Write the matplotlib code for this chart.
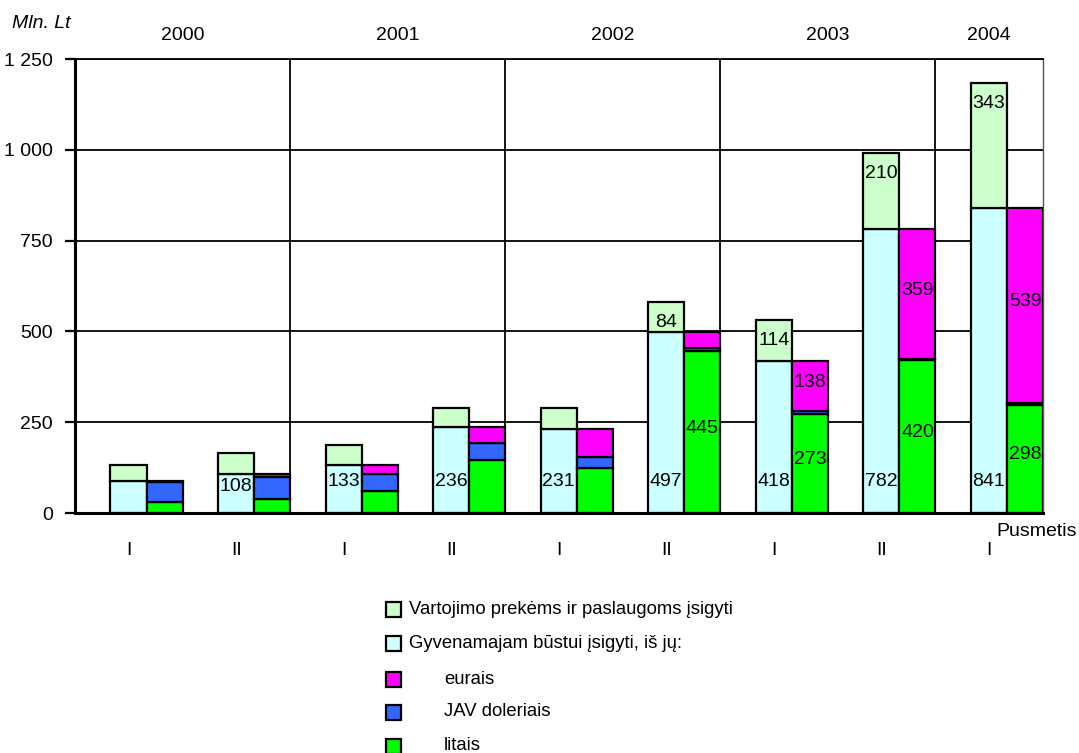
import matplotlib
matplotlib.use('Agg')
import matplotlib.pyplot as plt
from matplotlib.patches import Rectangle
import numpy as np

# ---- data ----
years = ['2000', '2001', '2002', '2003', '2004']
year_span = [2, 2, 2, 2, 1]           # number of half-years per year
halves = ['I', 'II', 'I', 'II', 'I', 'II', 'I', 'II', 'I']
consumer = [45, 58, 55, 52, 57, 84, 114, 210, 343]      # Vartojimo prekėms ir paslaugoms
housing = [88, 108, 133, 236, 231, 497, 418, 782, 841]  # Gyvenamajam būstui
euro = [2, 8, 25, 43, 77, 44, 138, 359, 539]
usd = [57, 62, 48, 46, 29, 8, 7, 3, 4]
litas = [29, 38, 60, 147, 125, 445, 273, 420, 298]
yticks = [0, 250, 500, 750, 1000, 1250]
legend_labels = ['Vartojimo prekėms ir paslaugoms įsigyti',
                 'Gyvenamajam būstui įsigyti, iš jų:',
                 'eurais', 'JAV doleriais', 'litais']

C_CONS = '#CCFFCC'
C_HOUS = '#CCFFFF'
C_EUR = '#FF00FF'
C_USD = '#3366FF'
C_LIT = '#00FF00'
legend_colors = [C_CONS, C_HOUS, C_EUR, C_USD, C_LIT]

FONT = ['Liberation Sans', 'DejaVu Sans']
plt.rcParams['font.family'] = FONT
FS = 14

W, H = 1079, 753
fig = plt.figure(figsize=(W / 100, H / 100), dpi=100)
ax = fig.add_axes([75 / W, 240 / H, 968 / W, 454 / H])

x = np.arange(len(halves))
housing_a = np.array(housing)
consumer_a = np.array(consumer)
litas_a = np.array(litas)
usd_a = np.array(usd)
euro_a = np.array(euro)

bw = 0.335
lx = x + 0.33
rx = x + 0.665
lw = 1.6
ax.bar(lx, housing_a, width=bw, align='edge', color=C_HOUS, edgecolor='black', lw=lw, zorder=3)
ax.bar(lx, consumer_a, width=bw, bottom=housing_a, align='edge', color=C_CONS, edgecolor='black', lw=lw, zorder=3)
ax.bar(rx, litas_a, width=bw, align='edge', color=C_LIT, edgecolor='black', lw=lw, zorder=3)
ax.bar(rx, usd_a, width=bw, bottom=litas_a, align='edge', color=C_USD, edgecolor='black', lw=lw, zorder=3)
ax.bar(rx, euro_a, width=bw, bottom=litas_a + usd_a, align='edge', color=C_EUR, edgecolor='black', lw=lw, zorder=3)

ax.set_xlim(0, len(halves))
ax.set_ylim(0, 1250)

# grid and year separators
for yv in yticks[1:]:
    ax.axhline(yv, color='black', lw=1.3, zorder=1)
bounds = np.cumsum(year_span)
for b in bounds[:-1]:
    ax.axvline(b, color='black', lw=1.3, zorder=1)

# spines
for s in ['left', 'bottom']:
    ax.spines[s].set_linewidth(2.2)
    ax.spines[s].set_zorder(5)
ax.spines['top'].set_linewidth(1.3)
ax.spines['right'].set_linewidth(1.0)
ax.spines['right'].set_color('#555555')

ax.set_yticks(yticks)
ax.set_yticklabels([f"{v:,}".replace(',', ' ') for v in yticks], fontsize=FS)
ax.tick_params(axis='y', direction='out', length=7, width=1.6, pad=9)
ax.set_xticks(x + 0.5)
ax.set_xticklabels(halves, fontsize=FS)
ax.tick_params(axis='x', length=0, pad=21)

# year labels
starts = np.concatenate([[0], bounds[:-1]])
for yr, s0, s1 in zip(years, starts, bounds):
    ax.annotate(yr, xy=((s0 + s1) / 2, 1), xycoords=('data', 'axes fraction'),
                xytext=(0, 17), textcoords='offset points', ha='center', va='center', fontsize=FS)

# value labels
for i in range(len(halves)):
    xl = lx[i] + bw / 2
    xr = rx[i] + bw / 2
    if housing[i] >= 100:
        ax.text(xl, min(88, housing[i] - 36), str(housing[i]), ha='center', va='center', fontsize=FS, zorder=6)
    if consumer[i] >= 80:
        ax.annotate(str(consumer[i]), xy=(xl, housing[i] + consumer[i]), xytext=(0, -15),
                    textcoords='offset points', ha='center', va='center', fontsize=FS, zorder=6)
    if euro[i] >= 100:
        ax.annotate(str(euro[i]), xy=(xr, litas[i] + usd[i] + euro[i] / 2), xytext=(0, 3),
                    textcoords='offset points', ha='center', va='center', fontsize=FS, zorder=6)
    if litas[i] >= 250:
        ax.annotate(str(litas[i]), xy=(xr, litas[i] / 2), xytext=(0, 3),
                    textcoords='offset points', ha='center', va='center', fontsize=FS, zorder=6)

fig.text(12 / W, 1 - 23 / H, 'Mln. Lt', style='italic', ha='left', va='center', fontsize=FS)
fig.text(1077 / W, 1 - 531 / H, 'Pusmetis', ha='right', va='center', fontsize=FS)

# legend (manual)
ys = [609, 643, 679, 712, 746]
tx = [409, 409, 444, 444, 444]
for lab, col, yy, xx in zip(legend_labels, legend_colors, ys, tx):
    fig.patches.append(Rectangle((386 / W, 1 - (yy + 7.5) / H), 15 / W, 15 / H,
                                 transform=fig.transFigure, facecolor=col,
                                 edgecolor='black', lw=1.6))
    fig.text(xx / W, 1 - yy / H, lab, ha='left', va='center', fontsize=13.3)

fig.savefig('out.png', dpi=100)
